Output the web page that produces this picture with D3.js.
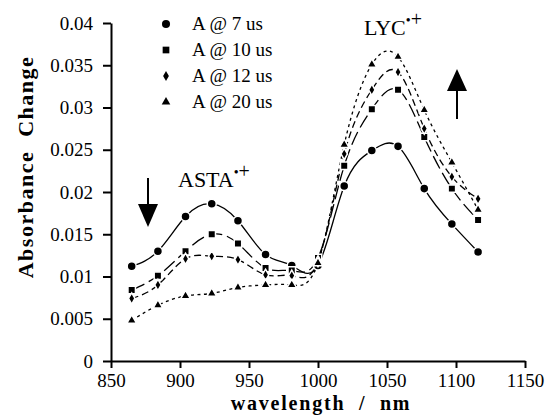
<!DOCTYPE html>
<html>
<head>
<meta charset="utf-8">
<script src="https://cdn.jsdelivr.net/npm/d3@7"></script>
<style>
  body { margin: 0; background: #fff; }
  svg { font-family: "Liberation Serif", "Times New Roman", serif; }
  .axis path, .axis line { stroke: #000; stroke-width: 2; }
  .axis text { fill: #000; }
</style>
</head>
<body>
<div id="chart"></div>
<script>
// wavelengths (nm) and absorbance change for each delay
const wavelengths = [865, 884, 904, 923, 942, 962, 981, 1000, 1019, 1039, 1058, 1077, 1097, 1116];
const a7us  = [0.0112, 0.0130, 0.0171, 0.0186, 0.0166, 0.0126, 0.0113, 0.0113, 0.0207, 0.0249, 0.0254, 0.0204, 0.0162, 0.0129];
const a10us = [0.0084, 0.0101, 0.0130, 0.0150, 0.0139, 0.0110, 0.0107, 0.0122, 0.0231, 0.0298, 0.0321, 0.0265, 0.0204, 0.0167];
const a12us = [0.0074, 0.0090, 0.0121, 0.0124, 0.0120, 0.0102, 0.0101, 0.0118, 0.0245, 0.0321, 0.0342, 0.0275, 0.0218, 0.0192];
const a20us = [0.0048, 0.0066, 0.0077, 0.0080, 0.0087, 0.0090, 0.0090, 0.0116, 0.0256, 0.0351, 0.0360, 0.0297, 0.0235, 0.0179];

const seriesNames = ["A @ 7 us", "A @ 10 us", "A @ 12 us", "A @ 20 us"];
const xTicks = [850, 900, 950, 1000, 1050, 1100, 1150];
const yTicks = [0, 0.005, 0.01, 0.015, 0.02, 0.025, 0.03, 0.035, 0.04];

const serif = "'Liberation Serif', 'Times New Roman', serif";
const width = 547, height = 416;
const svg = d3.select("#chart").append("svg")
    .attr("width", width)
    .attr("height", height);

const x = d3.scaleLinear().domain([850, 1150]).range([111, 525]);
const y = d3.scaleLinear().domain([0, 0.04]).range([361, 23]);

// axes
const xAxis = svg.append("g")
    .attr("class", "axis")
    .attr("transform", "translate(0,361)")
    .call(d3.axisBottom(x).tickValues(xTicks).tickSize(7).tickSizeOuter(0).tickPadding(6).tickFormat(d3.format("d")));

const yAxis = svg.append("g")
    .attr("class", "axis")
    .attr("transform", "translate(111,0)")
    .call(d3.axisLeft(y).tickValues(yTicks).tickSize(8).tickSizeOuter(0).tickPadding(10)
        .tickFormat(d => String(+d.toFixed(3))));

[xAxis, yAxis].forEach(g => {
    g.attr("font-family", null).attr("font-size", null);
    g.selectAll("text")
        .style("font-family", serif)
        .style("font-size", "19px");
});

// series
const series = [
    { name: seriesNames[0], values: a7us,  symbol: d3.symbolCircle,   size: 64, dash: null },
    { name: seriesNames[1], values: a10us, symbol: d3.symbolSquare,   size: 56, dash: "14,5" },
    { name: seriesNames[2], values: a12us, symbol: d3.symbolDiamond,  size: 36, dash: "7,4" },
    { name: seriesNames[3], values: a20us, symbol: d3.symbolTriangle, size: 40, dash: "3,3.5" }
];

const line = d3.line()
    .x((d, i) => x(wavelengths[i]))
    .y(d => y(d))
    .curve(d3.curveNatural);

series.forEach(s => {
    svg.append("path")
        .datum(s.values)
        .attr("fill", "none")
        .attr("stroke", "#000")
        .attr("stroke-width", 1.3)
        .attr("stroke-dasharray", s.dash)
        .attr("d", line);
});

series.forEach(s => {
    svg.append("g").selectAll("path")
        .data(s.values)
        .join("path")
        .attr("transform", (d, i) => `translate(${x(wavelengths[i])},${y(d)})`)
        .attr("d", d3.symbol(s.symbol, s.size))
        .attr("fill", "#000")
        .attr("stroke", "#fff")
        .attr("stroke-width", 1.5);
});

// legend
const legend = svg.append("g").attr("transform", "translate(166,24)");
series.forEach((s, i) => {
    const row = legend.append("g").attr("transform", `translate(0,${i * 26})`);
    row.append("path")
        .attr("d", d3.symbol(s.symbol, s.size * 0.8))
        .attr("fill", "#000");
    row.append("text")
        .attr("x", 26)
        .attr("y", 6)
        .attr("font-size", 19)
        .text(s.name);
});

// band labels
function bandLabel(xPos, yPos, name) {
    const t = svg.append("text").attr("x", xPos).attr("y", yPos).attr("font-size", 22);
    t.append("tspan").text(name);
    t.append("tspan").attr("dy", -10).attr("font-size", 14).text("•");
    t.append("tspan").attr("font-size", 20).attr("dy", 1).text("+");
}
bandLabel(178, 187, "ASTA");
bandLabel(364, 35, "LYC");

// arrows
function arrow(xPos, yTail, yBase, yTip, half) {
    svg.append("line")
        .attr("x1", xPos).attr("x2", xPos)
        .attr("y1", yTail).attr("y2", yBase)
        .attr("stroke", "#000").attr("stroke-width", 2);
    svg.append("path")
        .attr("d", `M${xPos - half},${yBase}L${xPos + half},${yBase}L${xPos},${yTip}Z`)
        .attr("fill", "#000");
}
arrow(148, 178, 204, 227, 10);
arrow(457, 119, 91, 69, 10);

// axis titles
svg.append("text")
    .attr("transform", "translate(33,167) rotate(-90)")
    .attr("text-anchor", "middle")
    .attr("font-size", 22)
    .attr("font-weight", "bold")
    .attr("letter-spacing", 1.5)
    .attr("xml:space", "preserve")
    .text("Absorbance  Change");

svg.append("text")
    .attr("x", 321)
    .attr("y", 410)
    .attr("text-anchor", "middle")
    .attr("font-size", 20)
    .attr("font-weight", "bold")
    .attr("letter-spacing", 1.8)
    .attr("xml:space", "preserve")
    .text("wavelength  /  nm");
</script>
</body>
</html>
